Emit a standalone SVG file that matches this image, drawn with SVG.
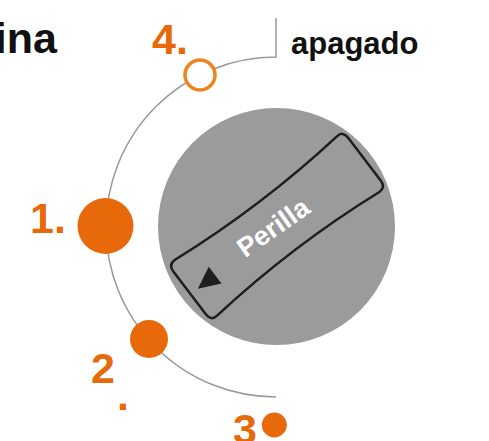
<svg xmlns="http://www.w3.org/2000/svg" width="489" height="441" viewBox="0 0 489 441">
  <style>
    .num { font-family: "Liberation Sans", Arial, sans-serif; font-weight: bold; font-size: 43px; fill: #E8690A; }
    .lbl { font-family: "Liberation Sans", Arial, sans-serif; font-weight: bold; fill: #111111; }
    .dot { fill: #E8690A; }
    .track { fill: none; stroke: #999999; stroke-width: 1.5; }
  </style>
  <rect width="489" height="441" fill="#ffffff"/>

  <g id="title">
    <text class="lbl" x="57" y="53" font-size="43" text-anchor="end">ina</text>
  </g>

  <g id="connectors">
    <path class="track" d="M 276 18 V 57 A 170 170 0 0 0 276 397"/>
  </g>

  <g id="knob">
    <circle cx="276.5" cy="226.5" r="118.5" fill="#9B9B9B"/>
    <g transform="translate(277 226) rotate(-37.3)">
      <path d="M -102 -35 Q 0 -25 102 -35 Q 110 -36 110 -27 L 110 27 Q 110 35 102 35 Q 0 25 -102 35 Q -110 36 -110 27 L -110 -27 Q -110 -35 -102 -35 Z" fill="#9B9B9B" stroke="#1E1E1E" stroke-width="2.5" stroke-linejoin="round"/>
      <path d="M -101 2 L -79 -9 L -79 12 Z" fill="#1E1E1E"/>
    </g>
    <text x="0" y="0" transform="translate(278.5 235) rotate(-35)" text-anchor="middle" font-family="Liberation Sans, Arial, sans-serif" font-weight="bold" font-size="27" fill="#ffffff">Perilla</text>
  </g>

  <g id="pos-1">
    <circle class="dot" cx="105.5" cy="226" r="28"/>
    <text class="num" x="30" y="233">1.</text>
  </g>

  <g id="pos-2">
    <circle class="dot" cx="149" cy="339" r="19"/>
    <text class="num" x="91" y="383">2</text>
    <text class="num" x="117" y="410">.</text>
  </g>

  <g id="pos-3">
    <text class="num" x="233" y="444">3</text>
    <circle class="dot" cx="274.3" cy="425" r="12.5"/>
  </g>

  <g id="pos-4">
    <circle cx="200" cy="75" r="15" fill="#ffffff" stroke="#EF8322" stroke-width="3.5"/>
    <text class="num" x="152" y="53.5">4.</text>
  </g>

  <g id="label-apagado">
    <text class="lbl" x="291" y="53.5" font-size="31">apagado</text>
  </g>
</svg>
